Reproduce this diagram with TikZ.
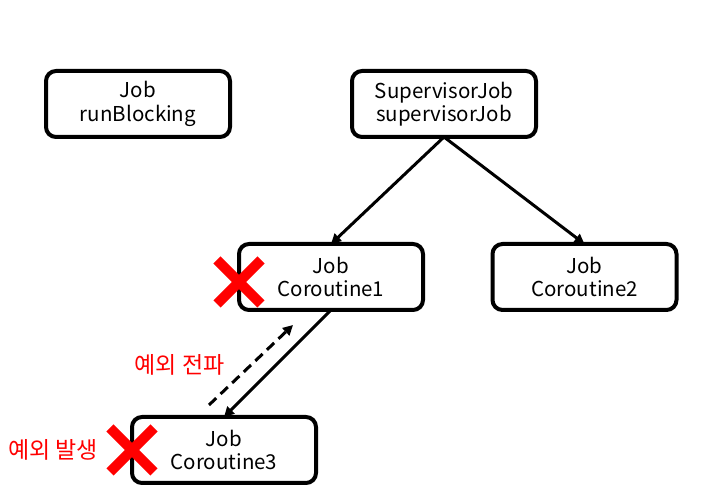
\documentclass[tikz,border=0pt]{standalone}
\usepackage{fontspec}
\setmainfont{Noto Sans CJK KR}
\usetikzlibrary{positioning,arrows.meta}
\newcommand{\failmark}[1]{%
  \draw[cross] (#1) ++(-22pt,-22pt) -- ++(44pt,44pt)
    (#1) ++(-22pt,22pt) -- ++(44pt,-44pt);}

\begin{document}
\begin{tikzpicture}[
      x=1pt, y=1pt,
      job/.style={draw, line width=4pt, rounded corners=10pt, fill=white,
        minimum width=184pt, minimum height=66pt, align=center, outer sep=0pt,
        font=\fontsize{20.5}{23.5}\selectfont},
      child/.style={-{Triangle[length=10pt,width=10pt]}, line width=3pt},
      spread/.style={-{Triangle[length=10pt,width=10pt]}, line width=3pt,
        dash pattern=on 10pt off 6pt},
      cross/.style={draw=red, line width=10pt},
      note/.style={text=red, font=\fontsize{23}{27}\selectfont, inner sep=0pt}]
    \useasboundingbox (0,0) rectangle (712,486);

    % jobs
    \node[job] (rb) at (138,382) {Job\\runBlocking};
    \node[job, right=122pt of rb] (sj) {SupervisorJob\\supervisorJob};
    \node[job, below=107pt of sj, xshift=-113pt] (c1) {Job\\Coroutine1};
    \node[job, below=107pt of sj, xshift=140.5pt] (c2) {Job\\Coroutine2};
    \node[job, below=107pt of c1, xshift=-107pt] (c3) {Job\\Coroutine3};

    \draw[child] (sj.south) -- (c1.north);
    \draw[child] (sj.south) -- (c2.north);
    \draw[child] (c1.south) -- (c3.north);

    % exception goes back up
    \coordinate (from) at ([shift={(-15pt,12pt)}]c3.north);
    \coordinate (to) at ([shift={(-38pt,-15pt)}]c1.south);
    \draw[spread] (from) -- node[note, left=25pt] (lup) {예외 전파} (to);

    \coordinate (x1) at ([yshift=-5pt]c1.west);
    \coordinate (x3) at (c3.west);
    \failmark{x1}
    \failmark{x3}
    \node[note, left=34pt of x3] (lfail) {예외 발생};
  \end{tikzpicture}
\end{document}
